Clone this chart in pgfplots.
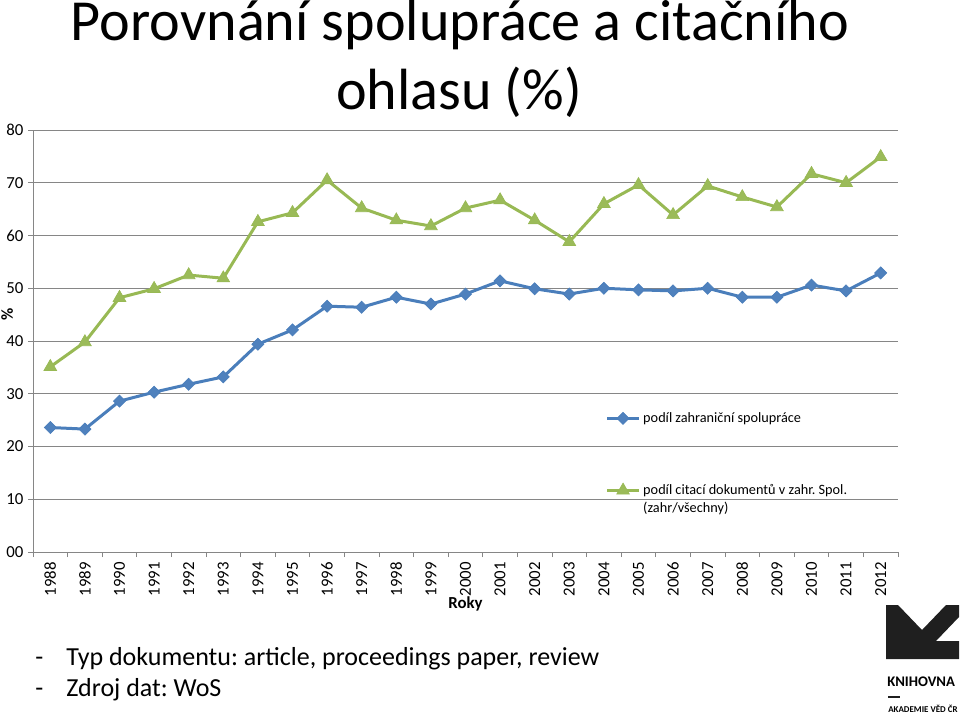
\documentclass[border=0pt]{standalone}
\usepackage{fontspec}
\setmainfont{Carlito}
\usepackage{pgfplots}
\pgfplotsset{compat=1.18}
\frenchspacing
\definecolor{serA}{HTML}{4A7EBB}
\definecolor{serAm}{HTML}{4F81BD}
\definecolor{serB}{HTML}{98B954}
\definecolor{serBm}{HTML}{9BBB59}
\definecolor{gridc}{HTML}{868686}
\begin{document}
\begin{tikzpicture}[x=0.75pt,y=-0.75pt]
\useasboundingbox (0,0) rectangle (960,716);
\begin{axis}[
  at={(24.75pt,-414pt)}, anchor=south west,
  scale only axis, width=648.75pt, height=316.5pt,
  xmin=-0.5, xmax=24.5, ymin=0, ymax=80,
  axis x line*=bottom, axis y line*=left,
  axis line style={gridc, line width=0.75pt},
  ymajorgrids, grid style={gridc, line width=0.75pt},
  ytick={0,10,...,80}, yticklabels={00,10,20,30,40,50,60,70,80},
  xtick={0,...,24}, xticklabels={},
  minor xtick={-0.5,0.5,...,24.5},
  tick align=outside, major tick length=3.75pt, minor tick length=3.75pt,
  major x tick style={draw=none},
  tick style={gridc, line width=0.75pt},
  /pgf/number format/assume math mode=true,
  ticklabel style={font=\fontsize{12.6}{15}\selectfont, text=black},
  clip=false,
  xlabel={\textbf{Roky}},
  xlabel style={at={(axis description cs:0.5,-0.1232)}, anchor=center, font=\fontsize{12.6}{15}\selectfont},
  ylabel={\textbf{\%}},
  ylabel style={at={(axis description cs:-0.030,0.562)}, anchor=center, font=\fontsize{12.6}{15}\selectfont},
  legend style={at={(rel axis cs:0.657,0.344)}, anchor=north west, draw=none, fill=none,
    font=\fontsize{10.7}{13.5}\selectfont, cells={anchor=base west}, row sep=41pt},
  legend image code/.code={\draw[mark repeat=2, mark phase=2, yshift=0.3em] plot coordinates {(0pt,0pt)(12pt,0pt)(24pt,0pt)};},
]
\addplot[serA, line width=2.25pt, mark=square*, mark size=3.2pt,
  mark options={rotate=45, fill=serAm, draw=serA, line width=0.5pt}]
  coordinates {
  (0,23.6) (1,23.3) (2,28.6) (3,30.3) (4,31.8) (5,33.2) (6,39.4) (7,42.1)
  (8,46.6) (9,46.4) (10,48.3) (11,47.0) (12,48.9) (13,51.4) (14,49.9)
  (15,48.9) (16,50.0) (17,49.7) (18,49.5) (19,50.0) (20,48.3) (21,48.3)
  (22,50.6) (23,49.5) (24,52.9)};
\addlegendentry{podíl zahraniční spolupráce}
\addplot[serB, line width=2.25pt, mark=triangle*, mark size=5.5pt,
  mark options={fill=serBm, draw=serB, line width=0.5pt}]
  coordinates {
  (0,35.1) (1,39.8) (2,48.2) (3,49.9) (4,52.5) (5,51.9) (6,62.6) (7,64.3)
  (8,70.5) (9,65.2) (10,62.9) (11,61.8) (12,65.2) (13,66.7) (14,62.9)
  (15,58.8) (16,66.0) (17,69.6) (18,63.9) (19,69.4) (20,67.3) (21,65.4)
  (22,71.7) (23,70.0) (24,74.9)};
\addlegendentry{\parbox[t]{200pt}{podíl citací dokumentů v zahr. Spol.\newline(zahr/všechny)}}
\pgfplotsinvokeforeach{0,...,24}{
  \node[rotate=90, anchor=east, inner sep=0pt, font=\fontsize{12.6}{15}\selectfont]
    at ([yshift=-7.5pt]axis cs:#1,0) {\pgfmathparse{int(1988+#1)}\pgfmathresult};
}
\end{axis}
% title
\node[anchor=base, font=\fontsize{43.6}{52.3}\selectfont] at (460,41) {Porovnání spolupráce a citačního};
\node[anchor=base, font=\fontsize{43.6}{52.3}\selectfont] at (459,110) {ohlasu (\%)};
% notes
\node[anchor=base west, inner sep=0pt, font=\fontsize{19.5}{23.4}\selectfont] at (35,665) {-};
\node[anchor=base west, inner sep=0pt, font=\fontsize{19.5}{23.4}\selectfont] at (66,665) {Typ dokumentu: article, proceedings paper, review};
\node[anchor=base west, inner sep=0pt, font=\fontsize{19.5}{23.4}\selectfont] at (35,696) {-};
\node[anchor=base west, inner sep=0pt, font=\fontsize{19.5}{23.4}\selectfont] at (66,696) {Zdroj dat: WoS};
% logo
\fill[black!88] (886,605) -- (898,605) -- (922,630) -- (946,605) -- (959,605) -- (959,617)
  -- (936,641) -- (959,641) -- (959,659) -- (886,659) -- cycle;
\node[anchor=base west, inner sep=0pt, font=\fontsize{11}{13}\selectfont\bfseries] at (887,686) {KNIHOVNA};
\draw[line width=1.5pt, black!88] (888,697) -- (900,697);
\node[anchor=base west, inner sep=0pt, font=\fontsize{6.7}{8}\selectfont\bfseries] at (888,712) {AKADEMIE VĚD ČR};
\end{tikzpicture}
\end{document}
